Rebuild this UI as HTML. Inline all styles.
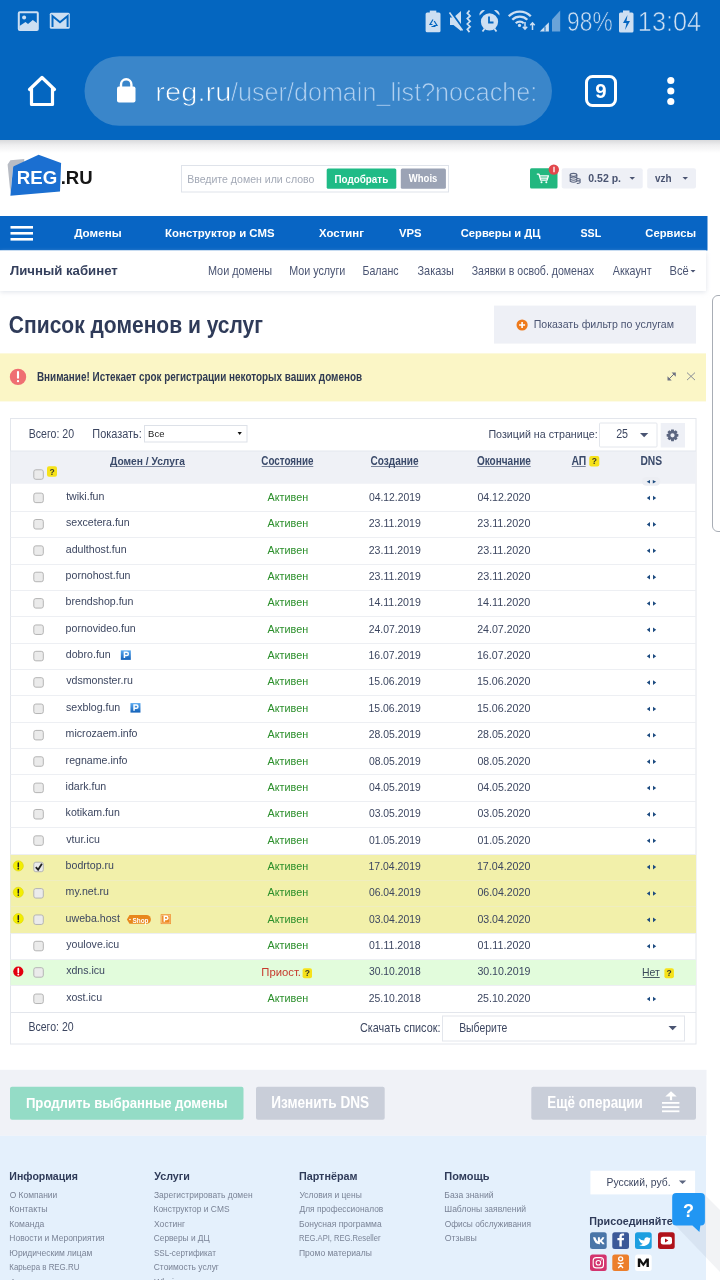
<!DOCTYPE html>
<html><head><meta charset="utf-8"><title>reg.ru</title>
<style>html,body{margin:0;padding:0;background:#fff;width:720px;height:1280px;overflow:hidden}
svg{display:block;will-change:transform} text{font-family:"Liberation Sans",sans-serif;white-space:pre}</style></head>
<body><svg width="720" height="1280" viewBox="0 0 720 1280">
<rect x="0" y="0" width="720" height="140" fill="#0466c0" />
<rect x="18.8" y="12.3" width="19" height="17.7" rx="1" fill="#0466c0" stroke="#cddff2" stroke-width="2"/>
<circle cx="24.1" cy="17.6" r="2" fill="#cddff2"/>
<path d="M19.5 26 L25.5 22 L28 24 L32.8 20 L37.5 23.5 V30 H19.5 Z" fill="#cddff2"/>
<rect x="49.8" y="12.8" width="20" height="16" rx="1.5" fill="#cddff2"/>
<path d="M52.5 27 V16 L60 22.2 L67.6 16 V27" fill="none" stroke="#0466c0" stroke-width="2"/>
<rect x="429.8" y="10.6" width="6.5" height="2.5" fill="#cddff2"/>
<rect x="425.6" y="12.6" width="14.9" height="19.6" rx="1.5" fill="#cddff2"/>
<path d="M433 19.5 l-3 5 h2.5 M434.2 21 l2.8 4.5 h-3.5 M431.5 26.5 h4" fill="none" stroke="#0466c0" stroke-width="1.2"/>
<path d="M450 17.5 h3.5 l7.5 -6.5 v20 l-7.5 -6 h-3.5 z" fill="#cddff2"/>
<path d="M450.5 11.5 L463.5 29.5" stroke="#0466c0" stroke-width="2.2"/>
<path d="M449.5 12.5 L462.5 30.5" stroke="#cddff2" stroke-width="1.6"/>
<path d="M469.5 10.5 l-2.2 2.7 l2.8 2.7 l-2.8 2.7 l2.8 2.7 l-2.8 2.7 l2.8 2.7 l-2.8 2.7 l2.2 2.7" fill="none" stroke="#cddff2" stroke-width="1.7"/>
<circle cx="489.5" cy="21.8" r="8.6" fill="#cddff2"/>
<path d="M479.5 15.5 a4.5 4.5 0 0 1 5.5 -5.3 z M499.5 15.5 a4.5 4.5 0 0 0 -5.5 -5.3 z" fill="#cddff2"/>
<path d="M489 16.5 v6 h4.5" fill="none" stroke="#0466c0" stroke-width="1.8"/>
<path d="M482.5 31.5 l2.2 -3 M496.5 31.5 l-2.2 -3" stroke="#cddff2" stroke-width="1.8"/>
<path d="M508.8 16.3 a15.5 15.5 0 0 1 22 0" fill="none" stroke="#cddff2" stroke-width="2.3"/>
<path d="M512.3 19.8 a10.5 10.5 0 0 1 15 0" fill="none" stroke="#cddff2" stroke-width="2.3"/>
<path d="M515.8 23.3 a5.5 5.5 0 0 1 8 0" fill="none" stroke="#cddff2" stroke-width="2.3"/>
<circle cx="519.5" cy="25.4" r="1.6" fill="#cddff2"/>
<path d="M525 22 v7 M522.8 26.8 l2.2 2.4 l2.2 -2.4 M532.5 30 v-7 M530.3 25.2 l2.2 -2.4 l2.2 2.4" fill="none" stroke="#cddff2" stroke-width="1.5"/>
<path d="M552 31.5 V19.5 L560.2 10.5 V31.5 Z" fill="#cddff2" opacity="0.5"/>
<path d="M539.8 31.5 L548.9 22.3 V31.5 Z" fill="#cddff2"/>
<path d="M545 31.5 V26.5" stroke="#0466c0" stroke-width="1"/>
<rect x="623" y="10.5" width="6.5" height="2.5" fill="#cddff2"/>
<rect x="619" y="12.5" width="14.5" height="20" rx="1.5" fill="#cddff2"/>
<path d="M627.5 15 l-4.5 8 h3.5 l-1.5 7 l5-9 h-3.5 z" fill="#0466c0"/>
<rect x="84.5" y="56.2" width="467.5" height="69.6" rx="34.8" fill="#3a86ca"/>
<path d="M29.5 89.5 L42 77.5 L54.5 89.5 M31.5 88 V104.5 H52.5 V88" fill="none" stroke="#fff" stroke-width="3.2" stroke-linejoin="round" stroke-linecap="round"/>
<path d="M121 87 v-2.5 a5.2 5.2 0 0 1 10.4 0 V87" fill="none" stroke="#fff" stroke-width="2.4"/>
<rect x="117" y="86.5" width="18.5" height="16" rx="2" fill="#fff"/>
<rect x="586.5" y="76.5" width="29" height="29" rx="6" fill="none" stroke="#fff" stroke-width="3"/>
<circle cx="670.8" cy="80.5" r="3.6" fill="#fff"/>
<circle cx="670.8" cy="91" r="3.6" fill="#fff"/>
<circle cx="670.8" cy="101.5" r="3.6" fill="#fff"/>
<defs><linearGradient id="hs" x1="0" y1="0" x2="0" y2="1"><stop offset="0" stop-color="#d9dadc"/><stop offset="0.4" stop-color="#efeff0"/><stop offset="1" stop-color="#fff"/></linearGradient></defs>
<rect x="0" y="140" width="720" height="13" fill="url(#hs)" />
<path d="M10.4 160.3 L24.3 158.9 L24 165 L13.2 166.5 L10.4 193 L7.6 164.4 Z" fill="#b8bcc4"/>
<path d="M38.6 154.7 L61.1 163 L60 191.5 L10.4 195.7 L13.2 166.5 Z" fill="#1b6fd1"/>
<rect x="181.5" y="165.5" width="267" height="26.5" fill="#fff" stroke="#dfe3ea"/>
<rect x="326.7" y="168.5" width="69.6" height="20.2" rx="1.5" fill="#1fbb86"/>
<rect x="400.8" y="168.5" width="45.1" height="20.2" rx="1.5" fill="#9ba3b5"/>
<rect x="530" y="168.2" width="27.5" height="20.3" rx="1.5" fill="#22b77f"/>
<path d="M536.8 174.2 h2.2 l1.8 6 h6.2 l1.4 -4.3 h-8.6 M540.5 178.2 h7" fill="none" stroke="#fff" stroke-width="1.3" stroke-linejoin="round"/><circle cx="541.5" cy="182.3" r="1" fill="#fff"/><circle cx="546.3" cy="182.3" r="1" fill="#fff"/>
<circle cx="553.8" cy="169.6" r="5.2" fill="#e2474c"/>
<path d="M554 166.8 v5.5" stroke="#fff" stroke-width="1.3"/>
<rect x="561.7" y="168.2" width="81" height="20.3" rx="2" fill="#eef0f6"/>
<ellipse cx="573.5" cy="174.8" rx="3.3" ry="1.5" fill="none" stroke="#5c6680" stroke-width="1.2"/><path d="M570.2 174.8 v6.5 q3.3 2 6.6 0 v-6.5 M570.2 177 q3.3 2 6.6 0 M570.2 179.2 q3.3 2 6.6 0 M576.8 178.5 q2 -.2 3.3 .6 v3.5 q-1.3 1 -3.3 .8 M576.8 180.8 q2 .2 3.3 -.4" fill="none" stroke="#5c6680" stroke-width="1.1"/>
<path d="M629.5 177 h5.5 l-2.75 2.8 z" fill="#4a5471"/>
<rect x="647.2" y="168.2" width="48.8" height="20.3" rx="2" fill="#eef0f6"/>
<path d="M682.5 177 h5.5 l-2.75 2.8 z" fill="#4a5471"/>
<rect x="0" y="216" width="707.5" height="34.5" fill="#0865c4" />
<rect x="10.5" y="226" width="22.5" height="2.6" fill="#fff" />
<rect x="10.5" y="232" width="22.5" height="2.6" fill="#fff" />
<rect x="10.5" y="238" width="22.5" height="2.6" fill="#fff" />
<defs><filter id="sh" x="-5%" y="-50%" width="110%" height="200%"><feGaussianBlur stdDeviation="2.5"/></filter></defs>
<rect x="0" y="253" width="706" height="39" fill="#dfe3ea" filter="url(#sh)"/>
<rect x="0" y="250.5" width="706" height="40.5" fill="#fff" />
<path d="M690.5 270 h5 l-2.5 2.5 z" fill="#4a5472"/>
<path d="M720 295.5 h-2 a5.5 5.5 0 0 0 -5.5 5.5 V526 a5.5 5.5 0 0 0 5.5 5.5 h2" fill="none" stroke="#a8adb5" stroke-width="1"/>
<rect x="494" y="305.6" width="202" height="38" fill="#eef0f6" />
<circle cx="522.1" cy="325" r="5.6" fill="#ee7a1c"/><path d="M522.1 322 v6 M519.1 325 h6" stroke="#fff" stroke-width="1.6"/>
<rect x="0" y="353.4" width="706" height="48" fill="#fbf6c6" />
<circle cx="18" cy="376.9" r="8.2" fill="#ef6f72"/><path d="M18 372 v5.8" stroke="#fff" stroke-width="2.1" stroke-linecap="round"/><circle cx="18" cy="381.2" r="1.15" fill="#fff"/>
<path d="M669 379 l5.3 -5.3" stroke="#6e7282" stroke-width="1"/><path d="M667.5 380.5 v-4.2 l4.2 4.2 z M675.8 372.5 v4.2 l-4.2 -4.2 z" fill="#6e7282"/>
<path d="M687 372.6 l8 7.5 M695 372.6 l-8 7.5" fill="none" stroke="#8a8e98" stroke-width="1"/>
<rect x="10.5" y="418.5" width="685.5" height="625.5" fill="#fff" stroke="#e3e6ec"/>
<rect x="144.5" y="425.5" width="102.5" height="16.5" fill="#fff" stroke="#dde1e8"/>
<path d="M237.6 431.9 h4.2 l-2.1 3.2 z" fill="#111"/>
<rect x="599.5" y="423" width="57.5" height="24" rx="1" fill="#fff" stroke="#e3e6ec"/>
<path d="M640 433 h8.3 l-4.15 4.2 z" fill="#4a5472"/>
<rect x="660.7" y="423" width="24.3" height="24.5" fill="#eef0f6" />
<path d="M678.36 433.99 L678.36 436.61 L676.57 436.97 L676.56 436.99 L677.57 438.51 L675.71 440.37 L674.19 439.36 L674.17 439.37 L673.81 441.16 L671.19 441.16 L670.83 439.37 L670.81 439.36 L669.29 440.37 L667.43 438.51 L668.44 436.99 L668.43 436.97 L666.64 436.61 L666.64 433.99 L668.43 433.63 L668.44 433.61 L667.43 432.09 L669.29 430.23 L670.81 431.24 L670.83 431.23 L671.19 429.44 L673.81 429.44 L674.17 431.23 L674.19 431.24 L675.71 430.23 L677.57 432.09 L676.56 433.61 L676.57 433.63 Z M674.6 435.3 a2.1 2.1 0 1 0 -4.2 0 a2.1 2.1 0 1 0 4.2 0 Z" fill="#5c6680" fill-rule="evenodd"/>
<rect x="10.5" y="451" width="685.5" height="32.75" fill="#eff1f6" />
<rect x="10.5" y="450.5" width="685.5" height="1" fill="#e4e7ed" />
<rect x="110" y="466" width="75" height="1" fill="#7a849b" />
<rect x="261.7" y="466" width="51.60000000000002" height="1" fill="#7a849b" />
<rect x="371" y="466" width="47.30000000000001" height="1" fill="#7a849b" />
<rect x="477.3" y="466" width="53.400000000000034" height="1" fill="#7a849b" />
<rect x="571.7" y="466" width="14.0" height="1" fill="#7a849b" />
<rect x="47" y="466.2" width="10" height="10.5" rx="2" fill="#f6e21a"/>
<text x="52.00" y="474.55" font-size="8.5" font-weight="700" fill="#3a3a2a" text-anchor="middle">?</text>
<rect x="589.3" y="456" width="10" height="10.5" rx="2" fill="#f6e21a"/>
<text x="594.30" y="464.35" font-size="8.5" font-weight="700" fill="#3a3a2a" text-anchor="middle">?</text>
<rect x="33.8" y="469.8" width="9.5" height="9.5" rx="2" fill="#ebebeb" stroke="#b4b4b4"/>
<rect x="641.9" y="476.9" width="18.4" height="8.9" rx="4.4" fill="#eceef3"/>
<path d="M650 480 v3.4 l-3.3 -1.7 z M652.8 480 v3.4 l3.3 -1.7 z" fill="#1f4d80"/>
<rect x="33.8" y="493.14" width="9.5" height="9.5" rx="2" fill="#ebebeb" stroke="#b4b4b4"/>
<path d="M650 495.74 v4.6 l-3.2 -2.3 z M653 495.74 v4.6 l3.2 -2.3 z" fill="#1d4b80"/>
<rect x="10.5" y="511" width="685.5" height="1" fill="#edeff3" />
<rect x="33.8" y="519.503" width="9.5" height="9.5" rx="2" fill="#ebebeb" stroke="#b4b4b4"/>
<path d="M650 522.103 v4.6 l-3.2 -2.3 z M653 522.103 v4.6 l3.2 -2.3 z" fill="#1d4b80"/>
<rect x="10.5" y="537" width="685.5" height="1" fill="#edeff3" />
<rect x="33.8" y="545.866" width="9.5" height="9.5" rx="2" fill="#ebebeb" stroke="#b4b4b4"/>
<path d="M650 548.4659999999999 v4.6 l-3.2 -2.3 z M653 548.4659999999999 v4.6 l3.2 -2.3 z" fill="#1d4b80"/>
<rect x="10.5" y="564" width="685.5" height="1" fill="#edeff3" />
<rect x="33.8" y="572.229" width="9.5" height="9.5" rx="2" fill="#ebebeb" stroke="#b4b4b4"/>
<path d="M650 574.829 v4.6 l-3.2 -2.3 z M653 574.829 v4.6 l3.2 -2.3 z" fill="#1d4b80"/>
<rect x="10.5" y="590" width="685.5" height="1" fill="#edeff3" />
<rect x="33.8" y="598.5920000000001" width="9.5" height="9.5" rx="2" fill="#ebebeb" stroke="#b4b4b4"/>
<path d="M650 601.192 v4.6 l-3.2 -2.3 z M653 601.192 v4.6 l3.2 -2.3 z" fill="#1d4b80"/>
<rect x="10.5" y="616" width="685.5" height="1" fill="#edeff3" />
<rect x="33.8" y="624.955" width="9.5" height="9.5" rx="2" fill="#ebebeb" stroke="#b4b4b4"/>
<path d="M650 627.555 v4.6 l-3.2 -2.3 z M653 627.555 v4.6 l3.2 -2.3 z" fill="#1d4b80"/>
<rect x="10.5" y="643" width="685.5" height="1" fill="#edeff3" />
<rect x="33.8" y="651.318" width="9.5" height="9.5" rx="2" fill="#ebebeb" stroke="#b4b4b4"/>
<path d="M650 653.9179999999999 v4.6 l-3.2 -2.3 z M653 653.9179999999999 v4.6 l3.2 -2.3 z" fill="#1d4b80"/>
<defs><linearGradient id="pg6" x1="0" y1="0" x2="0" y2="1"><stop offset="0" stop-color="#5aaaf0"/><stop offset="1" stop-color="#1260b8"/></linearGradient></defs>
<rect x="120.82" y="650.37" width="10" height="9.5" fill="url(#pg6)"/><path d="M124.42 657.92 v-5.6 h2.3 a1.6 1.6 0 0 1 0 3.2 h-2.3" fill="none" stroke="#fff" stroke-width="1.5"/>
<rect x="10.5" y="669" width="685.5" height="1" fill="#edeff3" />
<rect x="33.8" y="677.681" width="9.5" height="9.5" rx="2" fill="#ebebeb" stroke="#b4b4b4"/>
<path d="M650 680.281 v4.6 l-3.2 -2.3 z M653 680.281 v4.6 l3.2 -2.3 z" fill="#1d4b80"/>
<rect x="10.5" y="695" width="685.5" height="1" fill="#edeff3" />
<rect x="33.8" y="704.0440000000001" width="9.5" height="9.5" rx="2" fill="#ebebeb" stroke="#b4b4b4"/>
<path d="M650 706.644 v4.6 l-3.2 -2.3 z M653 706.644 v4.6 l3.2 -2.3 z" fill="#1d4b80"/>
<defs><linearGradient id="pg8" x1="0" y1="0" x2="0" y2="1"><stop offset="0" stop-color="#5aaaf0"/><stop offset="1" stop-color="#1260b8"/></linearGradient></defs>
<rect x="130.46" y="703.09" width="10" height="9.5" fill="url(#pg8)"/><path d="M134.06 710.64 v-5.6 h2.3 a1.6 1.6 0 0 1 0 3.2 h-2.3" fill="none" stroke="#fff" stroke-width="1.5"/>
<rect x="10.5" y="722" width="685.5" height="1" fill="#edeff3" />
<rect x="33.8" y="730.407" width="9.5" height="9.5" rx="2" fill="#ebebeb" stroke="#b4b4b4"/>
<path d="M650 733.007 v4.6 l-3.2 -2.3 z M653 733.007 v4.6 l3.2 -2.3 z" fill="#1d4b80"/>
<rect x="10.5" y="748" width="685.5" height="1" fill="#edeff3" />
<rect x="33.8" y="756.77" width="9.5" height="9.5" rx="2" fill="#ebebeb" stroke="#b4b4b4"/>
<path d="M650 759.3699999999999 v4.6 l-3.2 -2.3 z M653 759.3699999999999 v4.6 l3.2 -2.3 z" fill="#1d4b80"/>
<rect x="10.5" y="774" width="685.5" height="1" fill="#edeff3" />
<rect x="33.8" y="783.133" width="9.5" height="9.5" rx="2" fill="#ebebeb" stroke="#b4b4b4"/>
<path d="M650 785.733 v4.6 l-3.2 -2.3 z M653 785.733 v4.6 l3.2 -2.3 z" fill="#1d4b80"/>
<rect x="10.5" y="801" width="685.5" height="1" fill="#edeff3" />
<rect x="33.8" y="809.4960000000001" width="9.5" height="9.5" rx="2" fill="#ebebeb" stroke="#b4b4b4"/>
<path d="M650 812.096 v4.6 l-3.2 -2.3 z M653 812.096 v4.6 l3.2 -2.3 z" fill="#1d4b80"/>
<rect x="10.5" y="827" width="685.5" height="1" fill="#edeff3" />
<rect x="33.8" y="835.859" width="9.5" height="9.5" rx="2" fill="#ebebeb" stroke="#b4b4b4"/>
<path d="M650 838.459 v4.6 l-3.2 -2.3 z M653 838.459 v4.6 l3.2 -2.3 z" fill="#1d4b80"/>
<rect x="10.5" y="854.0219999999999" width="685.5" height="26.363" fill="#f2f0aa" />
<rect x="10.5" y="854" width="685.5" height="1" fill="#edeff3" />
<rect x="33.8" y="862.222" width="9.5" height="9.5" rx="2" fill="#ebebeb" stroke="#b4b4b4"/>
<path d="M35.8 867.222 l2.3 2.5 l3.8 -6" fill="none" stroke="#222" stroke-width="1.8"/>
<path d="M650 864.8219999999999 v4.6 l-3.2 -2.3 z M653 864.8219999999999 v4.6 l3.2 -2.3 z" fill="#1d4b80"/>
<circle cx="18.3" cy="865.9219999999999" r="5.1" fill="#f3ee00" stroke="#d8cf00" stroke-width="0.5"/><path d="M18.3 863.122 v3.6" stroke="#222" stroke-width="1.5" stroke-linecap="round"/><circle cx="18.3" cy="868.722" r="0.85" fill="#222"/>
<rect x="10.5" y="880.385" width="685.5" height="26.363" fill="#f2f0aa" />
<rect x="10.5" y="880" width="685.5" height="1" fill="#efedc0" />
<rect x="33.8" y="888.585" width="9.5" height="9.5" rx="2" fill="#ebebeb" stroke="#b4b4b4"/>
<path d="M650 891.185 v4.6 l-3.2 -2.3 z M653 891.185 v4.6 l3.2 -2.3 z" fill="#1d4b80"/>
<circle cx="18.3" cy="892.285" r="5.1" fill="#f3ee00" stroke="#d8cf00" stroke-width="0.5"/><path d="M18.3 889.485 v3.6" stroke="#222" stroke-width="1.5" stroke-linecap="round"/><circle cx="18.3" cy="895.085" r="0.85" fill="#222"/>
<rect x="10.5" y="906.748" width="685.5" height="26.363" fill="#f2f0aa" />
<rect x="10.5" y="906" width="685.5" height="1" fill="#efedc0" />
<rect x="33.8" y="914.9480000000001" width="9.5" height="9.5" rx="2" fill="#ebebeb" stroke="#b4b4b4"/>
<path d="M650 917.548 v4.6 l-3.2 -2.3 z M653 917.548 v4.6 l3.2 -2.3 z" fill="#1d4b80"/>
<circle cx="18.3" cy="918.648" r="5.1" fill="#f3ee00" stroke="#d8cf00" stroke-width="0.5"/><path d="M18.3 915.8480000000001 v3.6" stroke="#222" stroke-width="1.5" stroke-linecap="round"/><circle cx="18.3" cy="921.4480000000001" r="0.85" fill="#222"/>
<path d="M129.5 915.05 h17 a4.4 4.4 0 0 1 0 8.8 h-17 l-2.6 -4.4 z" fill="#e8871c"/><circle cx="130" cy="919.45" r="0.8" fill="#fff"/>
<text x="132.5" y="922.55" font-size="7" font-weight="700" fill="#fff" textLength="16" lengthAdjust="spacingAndGlyphs">Shop</text>
<rect x="160.7" y="914.25" width="10.2" height="9.8" fill="#ee8a22"/><rect x="161.7" y="915.25" width="8.2" height="7.8" fill="none" stroke="#f8c999" stroke-width="0.8"/><path d="M164.3 921.75 v-5.4 h2 a1.6 1.6 0 0 1 0 3.2 h-2" fill="none" stroke="#fff" stroke-width="1.5"/>
<rect x="10.5" y="933" width="685.5" height="1" fill="#edeff3" />
<rect x="33.8" y="941.311" width="9.5" height="9.5" rx="2" fill="#ebebeb" stroke="#b4b4b4"/>
<path d="M650 943.911 v4.6 l-3.2 -2.3 z M653 943.911 v4.6 l3.2 -2.3 z" fill="#1d4b80"/>
<rect x="10.5" y="959.4739999999999" width="685.5" height="26.363" fill="#e2fcdc" />
<rect x="10.5" y="959" width="685.5" height="1" fill="#edeff3" />
<rect x="33.8" y="967.674" width="9.5" height="9.5" rx="2" fill="#ebebeb" stroke="#b4b4b4"/>
<rect x="302.6" y="968.174" width="9.4" height="10" rx="2" fill="#f6e21a"/>
<text x="307.30" y="976.27" font-size="8.5" font-weight="700" fill="#3a3a2a" text-anchor="middle">?</text>
<circle cx="18.3" cy="971.574" r="5.1" fill="#e3000f"/><path d="M18.3 968.674 v3.6" stroke="#fff" stroke-width="1.7" stroke-linecap="round"/><circle cx="18.3" cy="974.4739999999999" r="0.95" fill="#fff"/>
<rect x="642.8" y="977.074" width="16.9" height="0.9" fill="#3b4a5a" />
<rect x="664.4" y="968.174" width="9.5" height="10" rx="2" fill="#f6e21a"/>
<text x="669.15" y="976.27" font-size="8.5" font-weight="700" fill="#3a3a2a" text-anchor="middle">?</text>
<rect x="10.5" y="985" width="685.5" height="1" fill="#edeff3" />
<rect x="33.8" y="994.037" width="9.5" height="9.5" rx="2" fill="#ebebeb" stroke="#b4b4b4"/>
<path d="M650 996.637 v4.6 l-3.2 -2.3 z M653 996.637 v4.6 l3.2 -2.3 z" fill="#1d4b80"/>
<rect x="11" y="1012" width="685" height="1" fill="#e3e6ec" />
<rect x="442.5" y="1016" width="242" height="25" fill="#fff" stroke="#e3e6ec"/>
<path d="M668.5 1026 h8.3 l-4.15 4.2 z" fill="#4a5472"/>
<rect x="0" y="1069.8" width="706.5" height="66" fill="#f0f2f7" />
<rect x="10" y="1086.7" width="233.5" height="33" rx="2" fill="#94dcc6"/>
<rect x="256" y="1086.7" width="128.7" height="33" rx="2" fill="#c9ced9"/>
<rect x="531.3" y="1086.7" width="164.7" height="33" rx="2" fill="#c9ced9"/>
<path d="M665.3 1096.6 L671 1091.2 L676.7 1096.6 Z" fill="#fff"/><rect x="669.9" y="1096" width="2.2" height="4.2" fill="#fff"/><rect x="662" y="1102" width="17.4" height="1.8" fill="#fff"/><rect x="662" y="1106.2" width="17.4" height="1.8" fill="#fff"/><rect x="662" y="1110.4" width="17.4" height="1.8" fill="#fff"/>
<rect x="0" y="1135.8" width="706" height="145" fill="#e4f0fc" />
<rect x="590.4" y="1170.7" width="104.7" height="23.7" fill="#fff" />
<path d="M678.9 1180.5 h7.3 l-3.65 3.6 z" fill="#5c6680"/>
<rect x="590" y="1232.2" width="16.7" height="16.7" rx="2.5" fill="#4a76a8"/><path d="M593 1237.3 h2.3 q1 3.2 2.6 4.3 v-4.3 h2 v2.5 q1.4 -.3 2.4 -2.5 h2.1 q-.6 2.3 -2.6 3.6 q1.8 .8 2.9 3.4 h-2.3 q-1 -1.9 -2.5 -2.3 v2.3 h-.5 q-4.8 0 -6.4 -7 z" fill="#fff"/>
<rect x="612.3" y="1232.2" width="16.7" height="16.7" rx="2.5" fill="#3b5998"/><path d="M621.8 1246.5 v-6.2 h2 l.3 -2.3 h-2.3 v-1.4 q0 -1 1 -1 h1.3 v-2.1 q-.8 -.1 -1.9 -.1 q-2.8 0 -2.8 2.9 v1.7 h-2 v2.3 h2 v6.2 z" fill="#fff"/>
<rect x="635" y="1232.2" width="16.7" height="16.7" rx="2.5" fill="#1d9fe0"/><path d="M638.5 1238 q2.7 2.5 5.8 2.6 q-.2 -3 2.8 -3.3 q1.2 0 2 .8 l1.5 -.5 l-.9 1.3 l1.2 -.3 l-1 1.1 q0 5 -5.5 6.2 q-2.8 .5 -5.3 -.9 q2.5 .1 3.7 -1.2 q-3.2 -.6 -4.3 -5.8 z" fill="#fff"/>
<rect x="658" y="1232.2" width="16.7" height="16.7" rx="2.5" fill="#b0121a"/><rect x="660.8" y="1236.8" width="11.2" height="7.6" rx="2.2" fill="#fff"/><path d="M665 1238.6 v4 l3.4 -2 z" fill="#b0121a"/>
<rect x="590" y="1254.4" width="16.7" height="16.7" rx="2.5" fill="#d3346e"/><rect x="593.2" y="1257.6" width="10.3" height="10.3" rx="3" fill="none" stroke="#fff" stroke-width="1.1"/><circle cx="598.35" cy="1262.75" r="2.3" fill="none" stroke="#fff" stroke-width="1.1"/><circle cx="601.3" cy="1259.8" r=".6" fill="#fff"/>
<rect x="612.3" y="1254.4" width="16.7" height="16.7" rx="2.5" fill="#ec7f2c"/><circle cx="620.65" cy="1258.8" r="2" fill="none" stroke="#fff" stroke-width="1.3"/><path d="M617.6 1262.8 q3.05 1.8 6.1 0 M618.3 1268 l2.35 -2.8 l2.35 2.8" fill="none" stroke="#fff" stroke-width="1.3"/>
<rect x="635" y="1254.4" width="16.7" height="16.7" rx="2.5" fill="#ffffff"/><path d="M637.8 1267 v-8.5 h2.6 l2.95 4.5 l2.95 -4.5 h2.6 v8.5 h-2.4 v-4.7 l-3.15 4.2 l-3.15 -4.2 v4.7 z" fill="#111"/>
<rect x="706" y="1135" width="14" height="145" fill="#ffffff" />
<text x="567.09" y="31.25" font-size="26.79" font-weight="400" fill="#cddff2" textLength="45.57" lengthAdjust="spacingAndGlyphs" stroke="#0466c0" stroke-width="0.6">98%</text>
<text x="637.83" y="31.25" font-size="26.79" font-weight="400" fill="#cddff2" textLength="63.23" lengthAdjust="spacingAndGlyphs" stroke="#0466c0" stroke-width="0.6">13:04</text>
<text x="155.25" y="101.00" font-size="25.00" font-weight="400" fill="#fff" textLength="76.18" lengthAdjust="spacingAndGlyphs" stroke="#3a86ca" stroke-width="0.7">reg.ru</text>
<text x="231.00" y="101.00" font-size="25.00" font-weight="400" fill="#b0d0f0" textLength="306.21" lengthAdjust="spacingAndGlyphs" stroke="#3a86ca" stroke-width="0.7">/user/domain_list?nocache:</text>
<text x="595.39" y="97.50" font-size="19.64" font-weight="700" fill="#fff" textLength="11.35" lengthAdjust="spacingAndGlyphs" >9</text>
<text x="16.88" y="183.90" font-size="17.86" font-weight="700" fill="#fff" textLength="40.45" lengthAdjust="spacingAndGlyphs" >REG</text>
<text x="60.69" y="183.90" font-size="18.12" font-weight="700" fill="#151515" textLength="31.98" lengthAdjust="spacingAndGlyphs" >.RU</text>
<text x="187.16" y="182.50" font-size="11.59" font-weight="400" fill="#a3a9b6" textLength="127.23" lengthAdjust="spacingAndGlyphs" >Введите домен или слово</text>
<text x="334.51" y="182.50" font-size="11.22" font-weight="700" fill="#fff" textLength="53.73" lengthAdjust="spacingAndGlyphs" >Подобрать</text>
<text x="408.80" y="182.30" font-size="11.64" font-weight="700" fill="#fff" textLength="28.54" lengthAdjust="spacingAndGlyphs" >Whois</text>
<text x="588.28" y="182.20" font-size="11.71" font-weight="700" fill="#4a5471" textLength="32.73" lengthAdjust="spacingAndGlyphs" >0.52 р.</text>
<text x="655.00" y="182.20" font-size="11.23" font-weight="700" fill="#4a5471" textLength="16.61" lengthAdjust="spacingAndGlyphs" >vzh</text>
<text x="74.20" y="237.20" font-size="11.29" font-weight="700" fill="#fff" textLength="47.44" lengthAdjust="spacingAndGlyphs" >Домены</text>
<text x="165.12" y="237.20" font-size="11.29" font-weight="700" fill="#fff" textLength="109.50" lengthAdjust="spacingAndGlyphs" >Конструктор и CMS</text>
<text x="319.10" y="237.20" font-size="11.29" font-weight="700" fill="#fff" textLength="44.80" lengthAdjust="spacingAndGlyphs" >Хостинг</text>
<text x="398.90" y="237.20" font-size="11.29" font-weight="700" fill="#fff" textLength="22.62" lengthAdjust="spacingAndGlyphs" >VPS</text>
<text x="460.75" y="237.20" font-size="11.29" font-weight="700" fill="#fff" textLength="79.75" lengthAdjust="spacingAndGlyphs" >Серверы и ДЦ</text>
<text x="580.49" y="237.20" font-size="11.29" font-weight="700" fill="#fff" textLength="20.74" lengthAdjust="spacingAndGlyphs" >SSL</text>
<text x="645.35" y="237.20" font-size="11.29" font-weight="700" fill="#fff" textLength="50.77" lengthAdjust="spacingAndGlyphs" >Сервисы</text>
<text x="10.00" y="275.00" font-size="13.33" font-weight="700" fill="#343f5c" textLength="107.76" lengthAdjust="spacingAndGlyphs" >Личный кабинет</text>
<text x="207.93" y="275.00" font-size="13.04" font-weight="400" fill="#4a5472" textLength="64.12" lengthAdjust="spacingAndGlyphs" >Мои домены</text>
<text x="289.14" y="275.00" font-size="13.04" font-weight="400" fill="#4a5472" textLength="56.20" lengthAdjust="spacingAndGlyphs" >Мои услуги</text>
<text x="362.45" y="275.00" font-size="13.04" font-weight="400" fill="#4a5472" textLength="36.16" lengthAdjust="spacingAndGlyphs" >Баланс</text>
<text x="417.47" y="275.00" font-size="12.86" font-weight="400" fill="#4a5472" textLength="36.48" lengthAdjust="spacingAndGlyphs" >Заказы</text>
<text x="471.68" y="275.00" font-size="12.16" font-weight="400" fill="#4a5472" textLength="122.32" lengthAdjust="spacingAndGlyphs" >Заявки в освоб. доменах</text>
<text x="612.80" y="275.00" font-size="13.04" font-weight="400" fill="#4a5472" textLength="38.79" lengthAdjust="spacingAndGlyphs" >Аккаунт</text>
<text x="669.51" y="275.00" font-size="13.04" font-weight="400" fill="#4a5472" textLength="19.19" lengthAdjust="spacingAndGlyphs" >Всё</text>
<text x="8.86" y="332.80" font-size="23.43" font-weight="700" fill="#2f3b59" textLength="254.20" lengthAdjust="spacingAndGlyphs" >Список доменов и услуг</text>
<text x="533.75" y="328.00" font-size="10.82" font-weight="400" fill="#4a5472" textLength="140.26" lengthAdjust="spacingAndGlyphs" >Показать фильтр по услугам</text>
<text x="36.91" y="381.10" font-size="11.86" font-weight="700" fill="#2f3a52" textLength="325.14" lengthAdjust="spacingAndGlyphs" >Внимание! Истекает срок регистрации некоторых ваших доменов</text>
<text x="28.75" y="437.60" font-size="12.43" font-weight="400" fill="#3c4660" textLength="45.33" lengthAdjust="spacingAndGlyphs" >Всего: 20</text>
<text x="92.33" y="437.60" font-size="12.61" font-weight="400" fill="#3c4660" textLength="49.43" lengthAdjust="spacingAndGlyphs" >Показать:</text>
<text x="148.14" y="436.90" font-size="9.42" font-weight="400" fill="#222" textLength="16.30" lengthAdjust="spacingAndGlyphs" >Все</text>
<text x="488.44" y="437.70" font-size="11.60" font-weight="400" fill="#3c4660" textLength="109.19" lengthAdjust="spacingAndGlyphs" >Позиций на странице:</text>
<text x="616.16" y="437.70" font-size="12.00" font-weight="400" fill="#3c4660" textLength="11.92" lengthAdjust="spacingAndGlyphs" >25</text>
<text x="110.00" y="465.00" font-size="11.37" font-weight="700" fill="#3a4a6a" textLength="74.86" lengthAdjust="spacingAndGlyphs" >Домен / Услуга</text>
<text x="261.31" y="465.00" font-size="11.86" font-weight="700" fill="#3a4a6a" textLength="52.25" lengthAdjust="spacingAndGlyphs" >Состояние</text>
<text x="370.60" y="465.00" font-size="11.86" font-weight="700" fill="#3a4a6a" textLength="47.96" lengthAdjust="spacingAndGlyphs" >Создание</text>
<text x="476.90" y="465.00" font-size="11.86" font-weight="700" fill="#3a4a6a" textLength="54.06" lengthAdjust="spacingAndGlyphs" >Окончание</text>
<text x="571.49" y="465.00" font-size="11.86" font-weight="700" fill="#3a4a6a" textLength="14.82" lengthAdjust="spacingAndGlyphs" >АП</text>
<text x="640.38" y="465.00" font-size="11.86" font-weight="700" fill="#3a4a6a" textLength="21.70" lengthAdjust="spacingAndGlyphs" >DNS</text>
<text x="66.14" y="499.94" font-size="11.00" font-weight="400" fill="#3c4660" textLength="38.29" lengthAdjust="spacingAndGlyphs" >twiki.fun</text>
<text x="267.50" y="500.89" font-size="11.30" font-weight="400" fill="#2b8f2b" textLength="40.67" lengthAdjust="spacingAndGlyphs" >Активен</text>
<text x="368.94" y="500.89" font-size="11.14" font-weight="400" fill="#3c4660" textLength="51.84" lengthAdjust="spacingAndGlyphs" >04.12.2019</text>
<text x="477.38" y="500.89" font-size="11.14" font-weight="400" fill="#3c4660" textLength="53.00" lengthAdjust="spacingAndGlyphs" >04.12.2020</text>
<text x="66.04" y="526.30" font-size="11.00" font-weight="400" fill="#3c4660" textLength="63.64" lengthAdjust="spacingAndGlyphs" >sexcetera.fun</text>
<text x="267.50" y="527.25" font-size="11.30" font-weight="400" fill="#2b8f2b" textLength="40.67" lengthAdjust="spacingAndGlyphs" >Активен</text>
<text x="368.72" y="527.25" font-size="11.14" font-weight="400" fill="#3c4660" textLength="52.07" lengthAdjust="spacingAndGlyphs" >23.11.2019</text>
<text x="477.16" y="527.25" font-size="11.14" font-weight="400" fill="#3c4660" textLength="53.23" lengthAdjust="spacingAndGlyphs" >23.11.2020</text>
<text x="65.83" y="552.67" font-size="11.00" font-weight="400" fill="#3c4660" textLength="60.70" lengthAdjust="spacingAndGlyphs" >adulthost.fun</text>
<text x="267.50" y="553.62" font-size="11.30" font-weight="400" fill="#2b8f2b" textLength="40.67" lengthAdjust="spacingAndGlyphs" >Активен</text>
<text x="368.72" y="553.62" font-size="11.14" font-weight="400" fill="#3c4660" textLength="52.07" lengthAdjust="spacingAndGlyphs" >23.11.2019</text>
<text x="477.16" y="553.62" font-size="11.14" font-weight="400" fill="#3c4660" textLength="53.23" lengthAdjust="spacingAndGlyphs" >23.11.2020</text>
<text x="65.61" y="579.03" font-size="11.00" font-weight="400" fill="#3c4660" textLength="64.83" lengthAdjust="spacingAndGlyphs" >pornohost.fun</text>
<text x="267.50" y="579.98" font-size="11.30" font-weight="400" fill="#2b8f2b" textLength="40.67" lengthAdjust="spacingAndGlyphs" >Активен</text>
<text x="368.72" y="579.98" font-size="11.14" font-weight="400" fill="#3c4660" textLength="52.07" lengthAdjust="spacingAndGlyphs" >23.11.2019</text>
<text x="477.16" y="579.98" font-size="11.14" font-weight="400" fill="#3c4660" textLength="53.23" lengthAdjust="spacingAndGlyphs" >23.11.2020</text>
<text x="65.61" y="605.39" font-size="11.00" font-weight="400" fill="#3c4660" textLength="67.78" lengthAdjust="spacingAndGlyphs" >brendshop.fun</text>
<text x="267.50" y="606.34" font-size="11.30" font-weight="400" fill="#2b8f2b" textLength="40.67" lengthAdjust="spacingAndGlyphs" >Активен</text>
<text x="368.51" y="606.34" font-size="11.14" font-weight="400" fill="#3c4660" textLength="52.28" lengthAdjust="spacingAndGlyphs" >14.11.2019</text>
<text x="476.94" y="606.34" font-size="11.14" font-weight="400" fill="#3c4660" textLength="53.45" lengthAdjust="spacingAndGlyphs" >14.11.2020</text>
<text x="65.61" y="631.75" font-size="11.00" font-weight="400" fill="#3c4660" textLength="70.13" lengthAdjust="spacingAndGlyphs" >pornovideo.fun</text>
<text x="267.50" y="632.71" font-size="11.30" font-weight="400" fill="#2b8f2b" textLength="40.67" lengthAdjust="spacingAndGlyphs" >Активен</text>
<text x="368.73" y="632.71" font-size="11.14" font-weight="400" fill="#3c4660" textLength="52.05" lengthAdjust="spacingAndGlyphs" >24.07.2019</text>
<text x="477.17" y="632.71" font-size="11.14" font-weight="400" fill="#3c4660" textLength="53.22" lengthAdjust="spacingAndGlyphs" >24.07.2020</text>
<text x="65.83" y="658.12" font-size="11.00" font-weight="400" fill="#3c4660" textLength="44.79" lengthAdjust="spacingAndGlyphs" >dobro.fun</text>
<text x="267.50" y="659.07" font-size="11.30" font-weight="400" fill="#2b8f2b" textLength="40.67" lengthAdjust="spacingAndGlyphs" >Активен</text>
<text x="368.52" y="659.07" font-size="11.14" font-weight="400" fill="#3c4660" textLength="52.26" lengthAdjust="spacingAndGlyphs" >16.07.2019</text>
<text x="476.95" y="659.07" font-size="11.14" font-weight="400" fill="#3c4660" textLength="53.43" lengthAdjust="spacingAndGlyphs" >16.07.2020</text>
<text x="66.25" y="684.48" font-size="11.00" font-weight="400" fill="#3c4660" textLength="66.57" lengthAdjust="spacingAndGlyphs" >vdsmonster.ru</text>
<text x="267.50" y="685.43" font-size="11.30" font-weight="400" fill="#2b8f2b" textLength="40.67" lengthAdjust="spacingAndGlyphs" >Активен</text>
<text x="368.52" y="685.43" font-size="11.14" font-weight="400" fill="#3c4660" textLength="52.26" lengthAdjust="spacingAndGlyphs" >15.06.2019</text>
<text x="476.95" y="685.43" font-size="11.14" font-weight="400" fill="#3c4660" textLength="53.43" lengthAdjust="spacingAndGlyphs" >15.06.2020</text>
<text x="66.04" y="710.84" font-size="11.00" font-weight="400" fill="#3c4660" textLength="54.22" lengthAdjust="spacingAndGlyphs" >sexblog.fun</text>
<text x="267.50" y="711.79" font-size="11.30" font-weight="400" fill="#2b8f2b" textLength="40.67" lengthAdjust="spacingAndGlyphs" >Активен</text>
<text x="368.52" y="711.79" font-size="11.14" font-weight="400" fill="#3c4660" textLength="52.26" lengthAdjust="spacingAndGlyphs" >15.06.2019</text>
<text x="476.95" y="711.79" font-size="11.14" font-weight="400" fill="#3c4660" textLength="53.43" lengthAdjust="spacingAndGlyphs" >15.06.2020</text>
<text x="65.61" y="737.21" font-size="11.00" font-weight="400" fill="#3c4660" textLength="71.87" lengthAdjust="spacingAndGlyphs" >microzaem.info</text>
<text x="267.50" y="738.16" font-size="11.30" font-weight="400" fill="#2b8f2b" textLength="40.67" lengthAdjust="spacingAndGlyphs" >Активен</text>
<text x="368.73" y="738.16" font-size="11.14" font-weight="400" fill="#3c4660" textLength="52.05" lengthAdjust="spacingAndGlyphs" >28.05.2019</text>
<text x="477.17" y="738.16" font-size="11.14" font-weight="400" fill="#3c4660" textLength="53.22" lengthAdjust="spacingAndGlyphs" >28.05.2020</text>
<text x="65.61" y="763.57" font-size="11.00" font-weight="400" fill="#3c4660" textLength="61.87" lengthAdjust="spacingAndGlyphs" >regname.info</text>
<text x="267.50" y="764.52" font-size="11.30" font-weight="400" fill="#2b8f2b" textLength="40.67" lengthAdjust="spacingAndGlyphs" >Активен</text>
<text x="368.94" y="764.52" font-size="11.14" font-weight="400" fill="#3c4660" textLength="51.84" lengthAdjust="spacingAndGlyphs" >08.05.2019</text>
<text x="477.38" y="764.52" font-size="11.14" font-weight="400" fill="#3c4660" textLength="53.00" lengthAdjust="spacingAndGlyphs" >08.05.2020</text>
<text x="65.61" y="789.93" font-size="11.00" font-weight="400" fill="#3c4660" textLength="40.66" lengthAdjust="spacingAndGlyphs" >idark.fun</text>
<text x="267.50" y="790.88" font-size="11.30" font-weight="400" fill="#2b8f2b" textLength="40.67" lengthAdjust="spacingAndGlyphs" >Активен</text>
<text x="368.94" y="790.88" font-size="11.14" font-weight="400" fill="#3c4660" textLength="51.84" lengthAdjust="spacingAndGlyphs" >04.05.2019</text>
<text x="477.38" y="790.88" font-size="11.14" font-weight="400" fill="#3c4660" textLength="53.00" lengthAdjust="spacingAndGlyphs" >04.05.2020</text>
<text x="65.61" y="816.30" font-size="11.00" font-weight="400" fill="#3c4660" textLength="54.20" lengthAdjust="spacingAndGlyphs" >kotikam.fun</text>
<text x="267.50" y="817.25" font-size="11.30" font-weight="400" fill="#2b8f2b" textLength="40.67" lengthAdjust="spacingAndGlyphs" >Активен</text>
<text x="368.94" y="817.25" font-size="11.14" font-weight="400" fill="#3c4660" textLength="51.84" lengthAdjust="spacingAndGlyphs" >03.05.2019</text>
<text x="477.38" y="817.25" font-size="11.14" font-weight="400" fill="#3c4660" textLength="53.00" lengthAdjust="spacingAndGlyphs" >03.05.2020</text>
<text x="66.25" y="842.66" font-size="11.00" font-weight="400" fill="#3c4660" textLength="33.58" lengthAdjust="spacingAndGlyphs" >vtur.icu</text>
<text x="267.50" y="843.61" font-size="11.30" font-weight="400" fill="#2b8f2b" textLength="40.67" lengthAdjust="spacingAndGlyphs" >Активен</text>
<text x="368.94" y="843.61" font-size="11.14" font-weight="400" fill="#3c4660" textLength="51.84" lengthAdjust="spacingAndGlyphs" >01.05.2019</text>
<text x="477.38" y="843.61" font-size="11.14" font-weight="400" fill="#3c4660" textLength="53.00" lengthAdjust="spacingAndGlyphs" >01.05.2020</text>
<text x="65.61" y="869.02" font-size="11.00" font-weight="400" fill="#3c4660" textLength="48.32" lengthAdjust="spacingAndGlyphs" >bodrtop.ru</text>
<text x="267.50" y="869.97" font-size="11.30" font-weight="400" fill="#2b8f2b" textLength="40.67" lengthAdjust="spacingAndGlyphs" >Активен</text>
<text x="368.52" y="869.97" font-size="11.14" font-weight="400" fill="#3c4660" textLength="52.26" lengthAdjust="spacingAndGlyphs" >17.04.2019</text>
<text x="476.95" y="869.97" font-size="11.14" font-weight="400" fill="#3c4660" textLength="53.43" lengthAdjust="spacingAndGlyphs" >17.04.2020</text>
<text x="65.61" y="895.38" font-size="11.00" font-weight="400" fill="#3c4660" textLength="43.39" lengthAdjust="spacingAndGlyphs" >my.net.ru</text>
<text x="267.50" y="896.34" font-size="11.30" font-weight="400" fill="#2b8f2b" textLength="40.67" lengthAdjust="spacingAndGlyphs" >Активен</text>
<text x="368.94" y="896.34" font-size="11.14" font-weight="400" fill="#3c4660" textLength="51.84" lengthAdjust="spacingAndGlyphs" >06.04.2019</text>
<text x="477.38" y="896.34" font-size="11.14" font-weight="400" fill="#3c4660" textLength="53.00" lengthAdjust="spacingAndGlyphs" >06.04.2020</text>
<text x="65.61" y="921.75" font-size="11.00" font-weight="400" fill="#3c4660" textLength="54.22" lengthAdjust="spacingAndGlyphs" >uweba.host</text>
<text x="267.50" y="922.70" font-size="11.30" font-weight="400" fill="#2b8f2b" textLength="40.67" lengthAdjust="spacingAndGlyphs" >Активен</text>
<text x="368.94" y="922.70" font-size="11.14" font-weight="400" fill="#3c4660" textLength="51.84" lengthAdjust="spacingAndGlyphs" >03.04.2019</text>
<text x="477.38" y="922.70" font-size="11.14" font-weight="400" fill="#3c4660" textLength="53.00" lengthAdjust="spacingAndGlyphs" >03.04.2020</text>
<text x="66.25" y="948.11" font-size="11.00" font-weight="400" fill="#3c4660" textLength="53.03" lengthAdjust="spacingAndGlyphs" >youlove.icu</text>
<text x="267.50" y="949.06" font-size="11.30" font-weight="400" fill="#2b8f2b" textLength="40.67" lengthAdjust="spacingAndGlyphs" >Активен</text>
<text x="368.94" y="949.06" font-size="11.14" font-weight="400" fill="#3c4660" textLength="51.74" lengthAdjust="spacingAndGlyphs" >01.11.2018</text>
<text x="477.38" y="949.06" font-size="11.14" font-weight="400" fill="#3c4660" textLength="53.01" lengthAdjust="spacingAndGlyphs" >01.11.2020</text>
<text x="66.14" y="974.47" font-size="11.00" font-weight="400" fill="#3c4660" textLength="38.89" lengthAdjust="spacingAndGlyphs" >xdns.icu</text>
<text x="261.30" y="976.27" font-size="11.01" font-weight="400" fill="#c63a2e" textLength="39.70" lengthAdjust="spacingAndGlyphs" >Приост.</text>
<text x="641.96" y="976.27" font-size="11.45" font-weight="400" fill="#3b4a5a" textLength="17.82" lengthAdjust="spacingAndGlyphs" >Нет</text>
<text x="368.94" y="975.42" font-size="11.14" font-weight="400" fill="#3c4660" textLength="51.73" lengthAdjust="spacingAndGlyphs" >30.10.2018</text>
<text x="477.38" y="975.42" font-size="11.14" font-weight="400" fill="#3c4660" textLength="53.11" lengthAdjust="spacingAndGlyphs" >30.10.2019</text>
<text x="66.14" y="1000.84" font-size="11.00" font-weight="400" fill="#3c4660" textLength="35.94" lengthAdjust="spacingAndGlyphs" >xost.icu</text>
<text x="267.50" y="1001.79" font-size="11.30" font-weight="400" fill="#2b8f2b" textLength="40.67" lengthAdjust="spacingAndGlyphs" >Активен</text>
<text x="368.73" y="1001.79" font-size="11.14" font-weight="400" fill="#3c4660" textLength="51.94" lengthAdjust="spacingAndGlyphs" >25.10.2018</text>
<text x="477.17" y="1001.79" font-size="11.14" font-weight="400" fill="#3c4660" textLength="53.22" lengthAdjust="spacingAndGlyphs" >25.10.2020</text>
<text x="28.46" y="1030.70" font-size="12.00" font-weight="400" fill="#3c4660" textLength="45.22" lengthAdjust="spacingAndGlyphs" >Всего: 20</text>
<text x="359.96" y="1032.00" font-size="12.57" font-weight="400" fill="#3c4660" textLength="80.50" lengthAdjust="spacingAndGlyphs" >Скачать список:</text>
<text x="459.17" y="1032.00" font-size="11.89" font-weight="400" fill="#3c4660" textLength="48.21" lengthAdjust="spacingAndGlyphs" >Выберите</text>
<text x="25.91" y="1108.30" font-size="14.86" font-weight="700" fill="#fff" textLength="201.63" lengthAdjust="spacingAndGlyphs" >Продлить выбранные домены</text>
<text x="271.18" y="1108.30" font-size="15.71" font-weight="700" fill="#fff" textLength="98.02" lengthAdjust="spacingAndGlyphs" >Изменить DNS</text>
<text x="547.19" y="1108.30" font-size="15.94" font-weight="700" fill="#fff" textLength="95.67" lengthAdjust="spacingAndGlyphs" >Ещё операции</text>
<text x="9.37" y="1180.30" font-size="10.68" font-weight="700" fill="#2f3b59" textLength="68.50" lengthAdjust="spacingAndGlyphs" >Информация</text>
<text x="154.20" y="1180.30" font-size="11.30" font-weight="700" fill="#2f3b59" textLength="35.70" lengthAdjust="spacingAndGlyphs" >Услуги</text>
<text x="298.95" y="1180.30" font-size="11.30" font-weight="700" fill="#2f3b59" textLength="58.50" lengthAdjust="spacingAndGlyphs" >Партнёрам</text>
<text x="444.34" y="1180.30" font-size="11.30" font-weight="700" fill="#2f3b59" textLength="45.24" lengthAdjust="spacingAndGlyphs" >Помощь</text>
<text x="9.66" y="1198.00" font-size="9.14" font-weight="400" fill="#7a8396" textLength="47.62" lengthAdjust="spacingAndGlyphs" >О Компании</text>
<text x="9.29" y="1212.30" font-size="9.14" font-weight="400" fill="#7a8396" textLength="38.42" lengthAdjust="spacingAndGlyphs" >Контакты</text>
<text x="9.32" y="1226.70" font-size="9.14" font-weight="400" fill="#7a8396" textLength="34.85" lengthAdjust="spacingAndGlyphs" >Команда</text>
<text x="9.32" y="1241.10" font-size="9.28" font-weight="400" fill="#7a8396" textLength="95.40" lengthAdjust="spacingAndGlyphs" >Новости и Мероприятия</text>
<text x="9.32" y="1255.60" font-size="9.14" font-weight="400" fill="#7a8396" textLength="82.95" lengthAdjust="spacingAndGlyphs" >Юридическим лицам</text>
<text x="9.37" y="1270.10" font-size="9.14" font-weight="400" fill="#7a8396" textLength="70.00" lengthAdjust="spacingAndGlyphs" >Карьера в REG.RU</text>
<text x="10.00" y="1284.50" font-size="9.28" font-weight="400" fill="#7a8396" textLength="62.61" lengthAdjust="spacingAndGlyphs" >Акции и скидки</text>
<text x="153.95" y="1198.00" font-size="9.14" font-weight="400" fill="#7a8396" textLength="98.68" lengthAdjust="spacingAndGlyphs" >Зарегистрировать домен</text>
<text x="153.53" y="1212.30" font-size="9.01" font-weight="400" fill="#7a8396" textLength="75.98" lengthAdjust="spacingAndGlyphs" >Конструктор и CMS</text>
<text x="154.03" y="1226.70" font-size="9.28" font-weight="400" fill="#7a8396" textLength="31.18" lengthAdjust="spacingAndGlyphs" >Хостинг</text>
<text x="153.78" y="1241.10" font-size="9.14" font-weight="400" fill="#7a8396" textLength="55.90" lengthAdjust="spacingAndGlyphs" >Серверы и ДЦ</text>
<text x="153.88" y="1255.60" font-size="8.77" font-weight="400" fill="#7a8396" textLength="61.99" lengthAdjust="spacingAndGlyphs" >SSL-сертификат</text>
<text x="153.78" y="1270.10" font-size="9.14" font-weight="400" fill="#7a8396" textLength="65.18" lengthAdjust="spacingAndGlyphs" >Стоимость услуг</text>
<text x="154.20" y="1284.50" font-size="8.77" font-weight="400" fill="#7a8396" textLength="24.06" lengthAdjust="spacingAndGlyphs" >Whois</text>
<text x="299.43" y="1198.00" font-size="9.28" font-weight="400" fill="#7a8396" textLength="62.40" lengthAdjust="spacingAndGlyphs" >Условия и цены</text>
<text x="299.60" y="1212.30" font-size="8.77" font-weight="400" fill="#7a8396" textLength="83.64" lengthAdjust="spacingAndGlyphs" >Для профессионалов</text>
<text x="298.92" y="1226.70" font-size="9.28" font-weight="400" fill="#7a8396" textLength="82.75" lengthAdjust="spacingAndGlyphs" >Бонусная программа</text>
<text x="298.99" y="1241.10" font-size="8.77" font-weight="400" fill="#7a8396" textLength="81.51" lengthAdjust="spacingAndGlyphs" >REG.API, REG.Reseller</text>
<text x="298.92" y="1255.60" font-size="9.28" font-weight="400" fill="#7a8396" textLength="72.92" lengthAdjust="spacingAndGlyphs" >Промо материалы</text>
<text x="444.31" y="1198.00" font-size="8.53" font-weight="400" fill="#7a8396" textLength="49.18" lengthAdjust="spacingAndGlyphs" >База знаний</text>
<text x="444.32" y="1212.30" font-size="8.53" font-weight="400" fill="#7a8396" textLength="81.67" lengthAdjust="spacingAndGlyphs" >Шаблоны заявлений</text>
<text x="444.67" y="1226.70" font-size="8.65" font-weight="400" fill="#7a8396" textLength="86.25" lengthAdjust="spacingAndGlyphs" >Офисы обслуживания</text>
<text x="444.65" y="1241.10" font-size="9.14" font-weight="400" fill="#7a8396" textLength="32.21" lengthAdjust="spacingAndGlyphs" >Отзывы</text>
<text x="606.47" y="1186.20" font-size="10.40" font-weight="400" fill="#3c4660" textLength="64.04" lengthAdjust="spacingAndGlyphs" >Русский, руб.</text>
<text x="589.36" y="1225.20" font-size="10.67" font-weight="700" fill="#2f3b59" textLength="95.72" lengthAdjust="spacingAndGlyphs" >Присоединяйтесь</text>
<defs><linearGradient id="hg" x1="0" y1="0" x2="1" y2="1"><stop offset="0" stop-color="#d6e0ea"/><stop offset="1" stop-color="#eef2f6" stop-opacity="0"/></linearGradient></defs>
<path d="M674 1224 L704 1194 L720 1210 V1272 Z" fill="#1e3a5a" opacity="0.06"/>
<path d="M676.2 1192.9 h24.7 a4 4 0 0 1 4 4 v24.7 a4 4 0 0 1 -4 4 h-0.5 l-1 6.4 l-7 -6.4 h-16.2 a4 4 0 0 1 -4 -4 v-24.7 a4 4 0 0 1 4 -4 z" fill="#2196f3"/>
<text x="688.6" y="1216.5" font-size="18" font-weight="700" fill="#fff" text-anchor="middle">?</text>
</svg></body></html>
